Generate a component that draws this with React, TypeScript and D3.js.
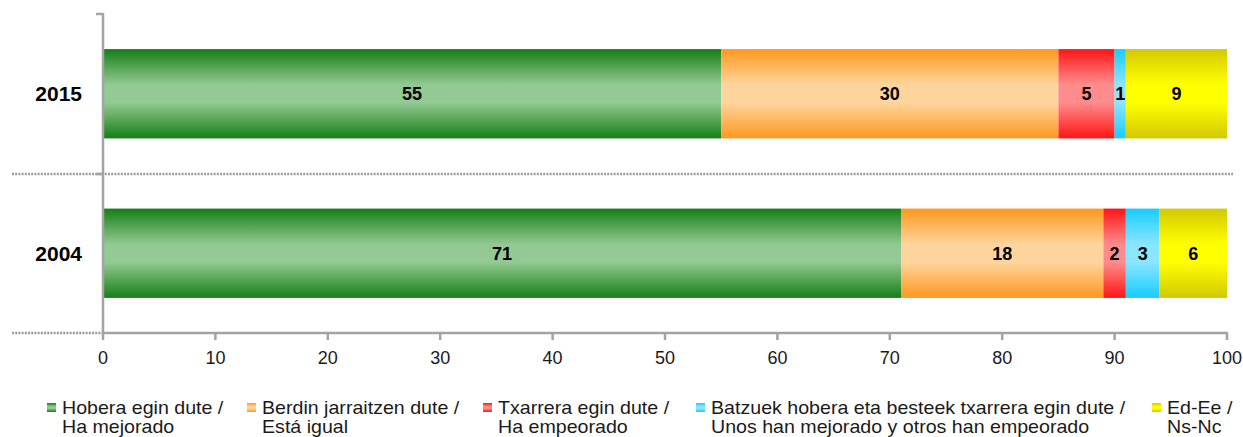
import * as d3 from "d3";

// chart values
const years = ["2015", "2004"];
const hobera = [55, 71];
const berdin = [30, 18];
const txarrera = [5, 2];
const batzuek = [1, 3];
const edee = [9, 6];

const seriesKeys = ["hobera", "berdin", "txarrera", "batzuek", "edee"];
const seriesLabels = [
  ["Hobera egin dute /", "Ha mejorado"],
  ["Berdin jarraitzen dute /", "Está igual"],
  ["Txarrera egin dute /", "Ha empeorado"],
  ["Batzuek hobera eta besteek txarrera egin dute /", "Unos han mejorado y otros han empeorado"],
  ["Ed-Ee /", "Ns-Nc"],
];
const xTicks = [0, 10, 20, 30, 40, 50, 60, 70, 80, 90, 100];

// edge / middle colours of each gradient
const edgeColors = ["#157f15", "#ff981f", "#ff1515", "#17ccff", "#d2c900"];
const midColors = ["#93c993", "#fdd59c", "#ff8c8c", "#8ae5ff", "#ffff00"];

const W = 1243;
const H = 437;
const legendX = [47, 247, 483, 696, 1152];

const App = () => {
  const rows = years.map((yr, i) => ({
    year: yr,
    hobera: hobera[i],
    berdin: berdin[i],
    txarrera: txarrera[i],
    batzuek: batzuek[i],
    edee: edee[i],
  }));

  const stacked = d3.stack<any>().keys(seriesKeys)(rows);

  const xScale = d3.scaleLinear().domain([0, 100]).range([103, 1227]);
  const yScale = d3
    .scaleBand()
    .domain(years)
    .range([14, 333])
    .paddingInner(0.44)
    .paddingOuter(0.22);

  const axisColor = "#a3a3a3";
  const dotColor = "#9a9a9a";
  const font = "Arial, 'Liberation Sans', sans-serif";

  return (
    <svg
      width={W}
      height={H}
      style={{ position: "absolute", left: 0, top: 0, fontFamily: font }}
    >
      <defs>
        {seriesKeys.map((k, i) => (
          <linearGradient key={k} id={"grad-" + k} x1="0" y1="0" x2="0" y2="1">
            <stop offset="0" stopColor={edgeColors[i]} />
            <stop offset="0.4" stopColor={midColors[i]} />
            <stop offset="0.6" stopColor={midColors[i]} />
            <stop offset="1" stopColor={edgeColors[i]} />
          </linearGradient>
        ))}
      </defs>

      {/* dotted separators */}
      <line
        x1={12}
        x2={1233}
        y1={174}
        y2={174}
        stroke={dotColor}
        strokeWidth={2.5}
        strokeDasharray="2 1.2"
      />
      <line
        x1={12}
        x2={103}
        y1={333}
        y2={333}
        stroke={dotColor}
        strokeWidth={2.5}
        strokeDasharray="2 1.2"
      />

      {/* bars */}
      {stacked.map((s) => (
        <g key={s.key}>
          {s.map((d, di) => (
            <rect
              key={di}
              x={xScale(d[0])}
              y={yScale(years[di])}
              width={xScale(d[1]) - xScale(d[0])}
              height={yScale.bandwidth()}
              fill={`url(#grad-${s.key})`}
            />
          ))}
        </g>
      ))}

      {/* value labels */}
      {stacked.map((s) => (
        <g key={"lbl-" + s.key}>
          {s.map((d, di) => (
            <text
              key={di}
              x={xScale((d[0] + d[1]) / 2)}
              y={(yScale(years[di]) as number) + yScale.bandwidth() / 2}
              dy="0.36em"
              textAnchor="middle"
              fontSize={18}
              fontWeight="bold"
              fill="#000"
            >
              {d[1] - d[0]}
            </text>
          ))}
        </g>
      ))}

      {/* category axis */}
      <line x1={103} x2={103} y1={13} y2={334} stroke={axisColor} strokeWidth={2.5} />
      {[14, 174].map((ty) => (
        <line key={ty} x1={96} x2={103} y1={ty} y2={ty} stroke={axisColor} strokeWidth={2.5} />
      ))}
      {years.map((yr) => (
        <text
          key={yr}
          x={82}
          y={(yScale(yr) as number) + yScale.bandwidth() / 2}
          dy="0.36em"
          textAnchor="end"
          fontSize={21}
          fontWeight="bold"
          fill="#000"
        >
          {yr}
        </text>
      ))}

      {/* value axis */}
      <line x1={102} x2={1228} y1={333} y2={333} stroke={axisColor} strokeWidth={2.5} />
      {xTicks.map((t) => (
        <g key={t}>
          <line
            x1={xScale(t)}
            x2={xScale(t)}
            y1={333}
            y2={340}
            stroke={axisColor}
            strokeWidth={2.5}
          />
          <text x={xScale(t)} y={364} textAnchor="middle" fontSize={18} fill="#1a1a1a">
            {t}
          </text>
        </g>
      ))}

      {/* legend */}
      {seriesKeys.map((k, i) => (
        <g key={"leg-" + k} transform={`translate(${legendX[i]},0)`}>
          <rect x={0} y={403} width={9} height={9} fill={`url(#grad-${k})`} />
          <g transform="translate(15,0) scale(1.09,1)">
            <text x={0} y={414} fontSize={18} fill="#1a1a1a">
              {seriesLabels[i][0]}
            </text>
            <text x={0} y={433} fontSize={18} fill="#1a1a1a">
              {seriesLabels[i][1]}
            </text>
          </g>
        </g>
      ))}
    </svg>
  );
};

export default App;
